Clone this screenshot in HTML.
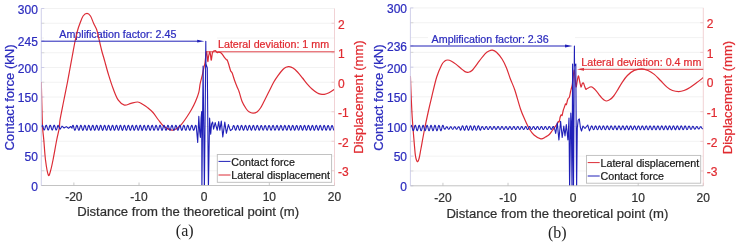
<!DOCTYPE html>
<html><head><meta charset="utf-8"><title>Contact force and lateral displacement</title>
<style>
html,body{margin:0;padding:0;background:#fff;}
body{width:739px;height:246px;overflow:hidden;font-family:"Liberation Sans",sans-serif;}
svg{display:block;filter:blur(0.5px);}
</style></head><body>
<svg width="739" height="246" viewBox="0 0 739 246"><clipPath id="ca"><rect x="41.30" y="8.50" width="293.20" height="177.00"/></clipPath>
<line x1="41.30" y1="38.00" x2="334.50" y2="38.00" stroke="#efefef" stroke-width="0.80"/>
<line x1="41.30" y1="67.50" x2="334.50" y2="67.50" stroke="#efefef" stroke-width="0.80"/>
<line x1="41.30" y1="97.00" x2="334.50" y2="97.00" stroke="#efefef" stroke-width="0.80"/>
<line x1="41.30" y1="126.50" x2="334.50" y2="126.50" stroke="#efefef" stroke-width="0.80"/>
<line x1="41.30" y1="156.00" x2="334.50" y2="156.00" stroke="#efefef" stroke-width="0.80"/>
<line x1="41.30" y1="23.25" x2="334.50" y2="23.25" stroke="#efefef" stroke-width="0.80"/>
<line x1="41.30" y1="52.75" x2="334.50" y2="52.75" stroke="#efefef" stroke-width="0.80"/>
<line x1="41.30" y1="82.25" x2="334.50" y2="82.25" stroke="#efefef" stroke-width="0.80"/>
<line x1="41.30" y1="111.75" x2="334.50" y2="111.75" stroke="#efefef" stroke-width="0.80"/>
<line x1="41.30" y1="141.25" x2="334.50" y2="141.25" stroke="#efefef" stroke-width="0.80"/>
<line x1="41.30" y1="170.75" x2="334.50" y2="170.75" stroke="#efefef" stroke-width="0.80"/>
<line x1="41.30" y1="8.50" x2="334.50" y2="8.50" stroke="#efefef" stroke-width="0.80"/>
<rect x="44" y="36.3" width="173" height="3" fill="#fff"/>
<text x="59.3" y="38.1" font-size="10.70" fill="#2c2cbe" stroke="#2c2cbe" stroke-width="0.22" font-family="Liberation Sans">Amplification factor: 2.45</text>
<text x="218.0" y="47.7" font-size="10.70" fill="#e02a30" stroke="#e02a30" stroke-width="0.22" font-family="Liberation Sans">Lateral deviation: 1 mm</text>
<line x1="41.30" y1="8.50" x2="44.30" y2="8.50" stroke="#c4c4e4" stroke-width="0.80"/>
<line x1="41.30" y1="40.95" x2="44.30" y2="40.95" stroke="#c4c4e4" stroke-width="0.80"/>
<line x1="41.30" y1="67.50" x2="44.30" y2="67.50" stroke="#c4c4e4" stroke-width="0.80"/>
<line x1="41.30" y1="97.00" x2="44.30" y2="97.00" stroke="#c4c4e4" stroke-width="0.80"/>
<line x1="41.30" y1="126.50" x2="44.30" y2="126.50" stroke="#c4c4e4" stroke-width="0.80"/>
<line x1="41.30" y1="156.00" x2="44.30" y2="156.00" stroke="#c4c4e4" stroke-width="0.80"/>
<line x1="41.30" y1="185.50" x2="44.30" y2="185.50" stroke="#c4c4e4" stroke-width="0.80"/>
<line x1="331.50" y1="23.25" x2="334.50" y2="23.25" stroke="#eec6ca" stroke-width="0.80"/>
<line x1="41.30" y1="23.25" x2="44.30" y2="23.25" stroke="#d0d0d0" stroke-width="0.80"/>
<line x1="331.50" y1="52.75" x2="334.50" y2="52.75" stroke="#eec6ca" stroke-width="0.80"/>
<line x1="41.30" y1="52.75" x2="44.30" y2="52.75" stroke="#d0d0d0" stroke-width="0.80"/>
<line x1="331.50" y1="82.25" x2="334.50" y2="82.25" stroke="#eec6ca" stroke-width="0.80"/>
<line x1="41.30" y1="82.25" x2="44.30" y2="82.25" stroke="#d0d0d0" stroke-width="0.80"/>
<line x1="331.50" y1="111.75" x2="334.50" y2="111.75" stroke="#eec6ca" stroke-width="0.80"/>
<line x1="41.30" y1="111.75" x2="44.30" y2="111.75" stroke="#d0d0d0" stroke-width="0.80"/>
<line x1="331.50" y1="141.25" x2="334.50" y2="141.25" stroke="#eec6ca" stroke-width="0.80"/>
<line x1="41.30" y1="141.25" x2="44.30" y2="141.25" stroke="#d0d0d0" stroke-width="0.80"/>
<line x1="331.50" y1="170.75" x2="334.50" y2="170.75" stroke="#eec6ca" stroke-width="0.80"/>
<line x1="41.30" y1="170.75" x2="44.30" y2="170.75" stroke="#d0d0d0" stroke-width="0.80"/>
<line x1="73.88" y1="182.50" x2="73.88" y2="185.50" stroke="#bcbcbc" stroke-width="0.80"/>
<line x1="139.03" y1="182.50" x2="139.03" y2="185.50" stroke="#bcbcbc" stroke-width="0.80"/>
<line x1="204.19" y1="182.50" x2="204.19" y2="185.50" stroke="#bcbcbc" stroke-width="0.80"/>
<line x1="269.34" y1="182.50" x2="269.34" y2="185.50" stroke="#bcbcbc" stroke-width="0.80"/>
<line x1="334.50" y1="182.50" x2="334.50" y2="185.50" stroke="#bcbcbc" stroke-width="0.80"/>
<g clip-path="url(#ca)" fill="none" stroke-linejoin="round">
<path d="M41.30 82.00 C41.35 84.17 41.47 89.50 41.60 95.00 C41.73 100.50 41.93 109.50 42.10 115.00 C42.27 120.50 42.32 123.83 42.60 128.00 C42.88 132.17 43.32 134.67 43.80 140.00 C44.28 145.33 44.75 154.17 45.50 160.00 C46.25 165.83 47.47 173.17 48.30 175.00 C49.13 176.83 49.72 173.50 50.50 171.00 C51.28 168.50 51.97 165.17 53.00 160.00 C54.03 154.83 55.65 145.33 56.70 140.00 C57.75 134.67 58.75 131.33 59.30 128.00 C59.85 124.67 59.30 124.33 60.00 120.00 C60.70 115.67 62.25 108.33 63.50 102.00 C64.75 95.67 66.43 87.50 67.50 82.00 C68.57 76.50 69.12 73.25 69.90 69.00 C70.68 64.75 71.40 60.83 72.20 56.50 C73.00 52.17 74.03 46.35 74.70 43.00 C75.37 39.65 75.70 38.57 76.20 36.40 C76.70 34.23 77.07 32.18 77.70 30.00 C78.33 27.82 79.10 25.63 80.00 23.30 C80.90 20.97 81.93 17.67 83.10 16.00 C84.27 14.33 85.77 13.30 87.00 13.30 C88.23 13.30 89.40 14.33 90.50 16.00 C91.60 17.67 92.55 20.97 93.60 23.30 C94.65 25.63 96.00 27.82 96.80 30.00 C97.60 32.18 97.88 34.23 98.40 36.40 C98.92 38.57 99.33 40.57 99.90 43.00 C100.47 45.43 101.05 48.17 101.80 51.00 C102.55 53.83 103.28 56.07 104.40 60.00 C105.52 63.93 107.00 69.72 108.50 74.60 C110.00 79.48 111.77 85.03 113.40 89.30 C115.03 93.57 116.47 97.57 118.30 100.20 C120.13 102.83 122.28 104.58 124.40 105.10 C126.52 105.62 128.77 103.82 131.00 103.30 C133.23 102.78 135.80 101.80 137.80 102.00 C139.80 102.20 141.37 103.57 143.00 104.50 C144.63 105.43 145.93 106.27 147.60 107.60 C149.27 108.93 151.18 110.43 153.00 112.50 C154.82 114.57 156.67 117.67 158.50 120.00 C160.33 122.33 161.75 124.80 164.00 126.50 C166.25 128.20 169.83 129.87 172.00 130.20 C174.17 130.53 175.38 129.52 177.00 128.50 C178.62 127.48 180.12 125.93 181.70 124.10 C183.28 122.27 184.87 119.93 186.50 117.50 C188.13 115.07 190.00 112.17 191.50 109.50 C193.00 106.83 194.28 104.35 195.50 101.50 C196.72 98.65 198.02 95.40 198.80 92.40 C199.58 89.40 199.62 86.37 200.20 83.50 C200.78 80.63 201.72 77.73 202.30 75.20 C202.88 72.67 203.25 70.37 203.70 68.30 C204.15 66.23 204.57 65.55 205.00 62.80 C205.43 60.05 205.93 52.93 206.30 51.80 C206.67 50.67 206.95 54.37 207.20 56.00 C207.45 57.63 207.58 61.43 207.80 61.60 C208.02 61.77 208.18 58.63 208.50 57.00 C208.82 55.37 209.37 52.13 209.70 51.80 C210.03 51.47 210.23 53.62 210.50 55.00 C210.77 56.38 211.00 60.38 211.30 60.10 C211.60 59.82 211.93 54.78 212.30 53.30 C212.67 51.82 213.13 51.62 213.50 51.20 C213.87 50.78 214.15 50.87 214.50 50.80 C214.85 50.73 215.20 50.52 215.60 50.80 C216.00 51.08 216.37 52.28 216.90 52.50 C217.43 52.72 218.15 52.05 218.80 52.10 C219.45 52.15 220.15 52.35 220.80 52.80 C221.45 53.25 222.10 54.03 222.70 54.80 C223.30 55.57 223.77 56.57 224.40 57.40 C225.03 58.23 226.02 59.33 226.50 59.80 C226.98 60.27 226.90 59.33 227.30 60.20 C227.70 61.07 228.35 63.25 228.90 65.00 C229.45 66.75 230.05 69.35 230.60 70.70 C231.15 72.05 231.53 71.47 232.20 73.10 C232.87 74.73 233.78 78.18 234.60 80.50 C235.42 82.82 236.33 85.08 237.10 87.00 C237.87 88.92 238.37 89.58 239.20 92.00 C240.03 94.42 240.97 98.75 242.10 101.50 C243.23 104.25 244.85 106.78 246.00 108.50 C247.15 110.22 247.83 111.02 249.00 111.80 C250.17 112.58 251.67 113.17 253.00 113.20 C254.33 113.23 255.75 112.87 257.00 112.00 C258.25 111.13 259.33 109.75 260.50 108.00 C261.67 106.25 262.58 104.25 264.00 101.50 C265.42 98.75 267.37 94.75 269.00 91.50 C270.63 88.25 272.30 84.65 273.80 82.00 C275.30 79.35 276.48 77.68 278.00 75.60 C279.52 73.52 281.57 70.88 282.90 69.50 C284.23 68.12 284.98 67.78 286.00 67.30 C287.02 66.82 287.83 66.48 289.00 66.60 C290.17 66.72 291.58 67.10 293.00 68.00 C294.42 68.90 295.92 70.33 297.50 72.00 C299.08 73.67 300.87 75.98 302.50 78.00 C304.13 80.02 305.72 82.27 307.30 84.10 C308.88 85.93 310.38 87.57 312.00 89.00 C313.62 90.43 315.58 91.85 317.00 92.70 C318.42 93.55 319.28 93.82 320.50 94.10 C321.72 94.38 322.88 94.62 324.30 94.40 C325.72 94.18 327.30 93.65 329.00 92.80 C330.70 91.95 333.58 89.88 334.50 89.30" stroke="#dc2c36" stroke-width="1.20"/>
<path d="M41.30 127.22 L41.60 126.19 L41.90 125.46 L42.20 125.20 L42.50 125.46 L42.80 126.19 L43.10 127.22 L43.40 128.34 L43.70 129.30 L44.00 129.88 L44.30 129.97 L44.60 129.54 L44.90 128.69 L45.20 127.60 L45.50 126.51 L45.80 125.66 L46.10 125.23 L46.40 125.32 L46.70 125.90 L47.00 126.86 L47.30 127.98 L47.60 129.01 L47.90 129.74 L48.20 130.00 L48.50 129.74 L48.80 129.01 L49.10 127.98 L49.40 126.86 L49.70 125.90 L50.00 125.32 L50.30 125.23 L50.60 125.66 L50.90 126.51 L51.20 127.60 L51.50 128.69 L51.80 129.54 L52.10 129.97 L52.40 129.88 L52.70 129.30 L53.00 128.34 L53.30 127.22 L53.60 126.19 L53.90 125.46 L54.20 125.20 L54.50 125.46 L54.80 126.19 L55.10 127.22 L55.40 128.34 L55.70 129.30 L56.00 129.88 L56.30 129.97 L56.60 129.54 L56.90 128.69 L57.20 127.60 L57.50 126.51 L57.80 125.66 L58.10 125.23 L60.10 129.20 L62.00 126.20 L64.10 128.00 L66.30 126.60 L68.50 128.30 L70.70 126.50 L72.00 128.20 L72.30 126.42 L72.60 125.62 L72.90 125.30 L73.20 125.54 L73.50 126.29 L73.80 127.37 L74.10 128.54 L74.40 129.55 L74.70 130.18 L75.00 130.27 L75.30 129.81 L75.60 128.91 L75.90 127.76 L76.20 126.62 L76.50 125.74 L76.80 125.32 L77.10 125.45 L77.40 126.10 L77.70 127.13 L78.00 128.31 L78.30 129.38 L78.60 130.09 L78.90 130.29 L79.20 129.94 L79.50 129.12 L79.80 128.00 L80.10 126.83 L80.40 125.88 L80.70 125.36 L81.00 125.38 L81.30 125.94 L81.60 126.91 L81.90 128.08 L82.20 129.18 L82.50 129.98 L82.80 130.30 L83.10 130.06 L83.40 129.31 L83.70 128.23 L84.00 127.06 L84.30 126.05 L84.60 125.42 L84.90 125.33 L85.20 125.79 L85.50 126.69 L85.80 127.84 L86.10 128.98 L86.40 129.86 L86.70 130.28 L87.00 130.15 L87.30 129.50 L87.60 128.47 L87.90 127.29 L88.20 126.22 L88.50 125.51 L88.80 125.31 L89.10 125.66 L89.40 126.48 L89.70 127.60 L90.00 128.77 L90.30 129.72 L90.60 130.24 L90.90 130.22 L91.20 129.66 L91.50 128.69 L91.80 127.52 L92.10 126.42 L92.40 125.62 L92.70 125.30 L93.00 125.54 L93.30 126.29 L93.60 127.37 L93.90 128.54 L94.20 129.55 L94.50 130.18 L94.80 130.27 L95.10 129.81 L95.40 128.91 L95.70 127.76 L96.00 126.62 L96.30 125.74 L96.60 125.32 L96.90 125.45 L97.20 126.10 L97.50 127.13 L97.80 128.31 L98.10 129.38 L98.40 130.09 L98.70 130.29 L99.00 129.94 L99.30 129.12 L99.60 128.00 L99.90 126.83 L100.20 125.88 L100.50 125.36 L100.80 125.38 L101.10 125.94 L101.40 126.91 L101.70 128.08 L102.00 129.18 L102.30 129.98 L102.60 130.30 L102.90 130.06 L103.20 129.31 L103.50 128.23 L103.80 127.06 L104.10 126.05 L104.40 125.42 L104.70 125.33 L105.00 125.79 L105.30 126.69 L105.60 127.84 L105.90 128.98 L106.20 129.86 L106.50 130.28 L106.80 130.15 L107.10 129.50 L107.40 128.47 L107.70 127.29 L108.00 126.22 L108.30 125.51 L108.60 125.31 L108.90 125.66 L109.20 126.48 L109.50 127.60 L109.80 128.77 L110.10 129.72 L110.40 130.24 L110.70 130.22 L111.00 129.66 L111.30 128.69 L111.60 127.52 L111.90 126.42 L112.20 125.62 L112.50 125.30 L112.80 125.54 L113.10 126.29 L113.40 127.37 L113.70 128.54 L114.00 129.55 L114.30 130.18 L114.60 130.27 L114.90 129.81 L115.20 128.91 L115.50 127.76 L115.80 126.62 L116.10 125.74 L116.40 125.32 L116.70 125.45 L117.00 126.10 L117.30 127.13 L117.60 128.31 L117.90 129.38 L118.20 130.09 L118.50 130.29 L118.80 129.94 L119.10 129.12 L119.40 128.00 L119.70 126.83 L120.00 125.88 L120.30 125.36 L120.60 125.38 L120.90 125.94 L121.20 126.91 L121.50 128.08 L121.80 129.18 L122.10 129.98 L122.40 130.30 L122.70 130.06 L123.00 129.31 L123.30 128.23 L123.60 127.06 L123.90 126.05 L124.20 125.42 L124.50 125.33 L124.80 125.79 L125.10 126.69 L125.40 127.84 L125.70 128.98 L126.00 129.86 L126.30 130.28 L126.60 130.15 L126.90 129.50 L127.20 128.47 L127.50 127.29 L127.80 126.22 L128.10 125.51 L128.40 125.31 L128.70 125.66 L129.00 126.48 L129.30 127.60 L129.60 128.77 L129.90 129.72 L130.20 130.24 L130.50 130.22 L130.80 129.66 L131.10 128.69 L131.40 127.52 L131.70 126.42 L132.00 125.62 L132.30 125.30 L132.60 125.54 L132.90 126.29 L133.20 127.37 L133.50 128.54 L133.80 129.55 L134.10 130.18 L134.40 130.27 L134.70 129.81 L135.00 128.91 L135.30 127.76 L135.60 126.62 L135.90 125.74 L136.20 125.32 L136.50 125.45 L136.80 126.10 L137.10 127.13 L137.40 128.31 L137.70 129.38 L138.00 130.09 L138.30 130.29 L138.60 129.94 L138.90 129.12 L139.20 128.00 L139.50 126.83 L139.80 125.88 L140.10 125.36 L140.40 125.38 L140.70 125.94 L141.00 126.91 L141.30 128.08 L141.60 129.18 L141.90 129.98 L142.20 130.30 L142.50 130.06 L142.80 129.31 L143.10 128.23 L143.40 127.06 L143.70 126.05 L144.00 125.42 L144.30 125.33 L144.60 125.79 L144.90 126.69 L145.20 127.84 L145.50 128.98 L145.80 129.86 L146.10 130.28 L146.40 130.15 L146.70 129.50 L147.00 128.47 L147.30 127.29 L147.60 126.22 L147.90 125.51 L148.20 125.31 L148.50 125.66 L148.80 126.48 L149.10 127.60 L149.40 128.77 L149.70 129.72 L150.00 130.24 L150.30 130.22 L150.60 129.66 L150.90 128.69 L151.20 127.52 L151.50 126.42 L151.80 125.62 L152.10 125.30 L152.40 125.54 L152.70 126.29 L153.00 127.37 L153.30 128.54 L153.60 129.55 L153.90 130.18 L154.20 130.27 L154.50 129.81 L154.80 128.91 L155.10 127.76 L155.40 126.62 L155.70 125.74 L156.00 125.32 L156.30 125.45 L156.60 126.10 L156.90 127.13 L157.20 128.31 L157.50 129.38 L157.80 130.09 L158.10 130.29 L158.40 129.94 L158.70 129.12 L159.00 128.00 L159.30 126.83 L159.60 125.88 L159.90 125.36 L160.20 125.38 L160.50 125.94 L160.80 126.91 L161.10 128.08 L161.40 129.18 L161.70 129.98 L162.00 130.30 L162.30 130.06 L162.60 129.31 L162.90 128.23 L163.20 127.06 L163.50 126.05 L163.80 125.42 L164.10 125.33 L164.40 125.79 L164.70 126.69 L165.00 127.84 L165.30 128.98 L165.60 129.86 L165.90 130.28 L166.20 130.15 L166.50 129.50 L166.80 128.47 L167.10 127.29 L167.40 126.22 L167.70 125.51 L168.00 125.31 L168.30 125.66 L168.60 126.48 L168.90 127.60 L169.20 128.77 L169.50 129.72 L169.80 130.24 L170.10 130.22 L170.40 129.66 L170.70 128.69 L171.00 127.52 L171.30 126.42 L171.60 125.62 L171.90 125.30 L172.20 125.54 L172.50 126.29 L172.80 127.37 L173.10 128.54 L173.40 129.55 L173.70 130.18 L174.00 130.27 L174.30 129.81 L174.60 128.91 L174.90 127.76 L175.20 126.62 L175.50 125.74 L175.80 125.32 L176.10 125.45 L176.40 126.10 L176.70 127.13 L177.00 128.31 L177.30 129.38 L177.60 130.09 L177.90 130.29 L178.20 129.94 L178.50 129.12 L178.80 128.00 L179.10 126.83 L179.40 125.88 L179.70 125.36 L180.00 125.38 L180.30 125.94 L180.60 126.91 L180.90 128.08 L181.20 129.18 L181.50 129.98 L181.80 130.30 L182.10 130.06 L182.40 129.31 L182.70 128.23 L183.00 127.06 L183.30 126.05 L183.60 125.42 L183.90 125.33 L184.20 125.79 L184.50 126.69 L184.80 127.84 L185.10 128.98 L185.40 129.86 L185.70 130.28 L186.00 130.15 L186.30 129.50 L186.60 128.47 L186.90 127.29 L187.20 126.22 L187.50 125.51 L187.80 125.31 L188.10 125.66 L188.40 126.48 L188.70 127.60 L189.00 128.77 L189.30 129.72 L189.60 130.24 L189.90 130.22 L190.20 129.66 L190.50 128.69 L190.80 127.52 L191.10 126.42 L191.40 125.62 L191.70 125.30 L192.00 125.54 L192.30 126.29 L192.60 127.37 L192.90 128.54 L193.20 129.55 L193.50 130.18 L193.80 130.27 L194.10 129.81 L194.40 128.91 L194.70 127.76 L195.00 126.62 L195.30 125.74 L195.60 125.32 L195.90 125.45 L196.20 126.10 L196.60 130.00 L197.70 142.40 L198.80 116.40 L199.70 132.00 L200.40 137.50 L201.10 118.00 L201.70 111.50 L201.90 190.00 L203.10 66.00 L204.40 190.00 L205.65 64.00 L205.80 41.20 L205.95 64.00 L207.30 68.00 L208.40 190.00 L209.60 118.00 L210.70 134.30 L211.60 124.00 L212.60 122.00 L213.60 129.20 L215.20 122.60 L217.20 130.30 L218.70 121.60 L219.80 130.30 L221.30 121.10 L222.80 136.90 L224.80 122.10 L226.40 133.30 L228.40 124.60 L230.40 130.60 L232.30 129.20 L232.60 128.15 L232.90 127.01 L233.20 126.06 L233.50 125.49 L233.80 125.45 L234.10 125.93 L234.40 126.84 L234.70 127.96 L235.00 129.04 L235.30 129.85 L235.60 130.19 L235.90 130.00 L236.20 129.31 L236.50 128.28 L236.80 127.14 L237.10 126.15 L237.40 125.53 L237.70 125.42 L238.00 125.85 L238.30 126.72 L238.60 127.82 L238.90 128.93 L239.20 129.78 L239.50 130.18 L239.80 130.05 L240.10 129.41 L240.40 128.41 L240.70 127.27 L241.00 126.25 L241.30 125.58 L241.60 125.41 L241.90 125.78 L242.20 126.60 L242.50 127.69 L242.80 128.81 L243.10 129.70 L243.40 130.16 L243.70 130.09 L244.00 129.51 L244.30 128.54 L244.60 127.40 L244.90 126.36 L245.20 125.64 L245.50 125.40 L245.80 125.71 L246.10 126.48 L246.40 127.56 L246.70 128.68 L247.00 129.61 L247.30 130.13 L247.60 130.13 L247.90 129.60 L248.20 128.67 L248.50 127.54 L248.80 126.47 L249.10 125.70 L249.40 125.40 L249.70 125.64 L250.00 126.37 L250.30 127.42 L250.60 128.56 L250.90 129.52 L251.20 130.10 L251.50 130.16 L251.80 129.69 L252.10 128.79 L252.40 127.67 L252.70 126.58 L253.00 125.77 L253.30 125.41 L253.60 125.59 L253.90 126.27 L254.20 127.29 L254.50 128.43 L254.80 129.43 L255.10 130.06 L255.40 130.18 L255.70 129.77 L256.00 128.91 L256.30 127.80 L256.60 126.70 L256.90 125.84 L257.20 125.42 L257.50 125.54 L257.80 126.17 L258.10 127.16 L258.40 128.30 L258.70 129.33 L259.00 130.01 L259.30 130.19 L259.60 129.84 L259.90 129.03 L260.20 127.94 L260.50 126.82 L260.80 125.92 L261.10 125.44 L261.40 125.50 L261.70 126.07 L262.00 127.03 L262.30 128.17 L262.60 129.22 L262.90 129.95 L263.20 130.20 L263.50 129.91 L263.80 129.14 L264.10 128.07 L264.40 126.94 L264.70 126.01 L265.00 125.47 L265.30 125.46 L265.60 125.98 L265.90 126.91 L266.20 128.03 L266.50 129.11 L266.80 129.89 L267.10 130.20 L267.40 129.97 L267.70 129.25 L268.00 128.21 L268.30 127.07 L268.60 126.10 L268.90 125.51 L269.20 125.44 L269.50 125.90 L269.80 126.78 L270.10 127.90 L270.40 128.99 L270.70 129.82 L271.00 130.19 L271.30 130.02 L271.60 129.35 L271.90 128.34 L272.20 127.20 L272.50 126.20 L272.80 125.55 L273.10 125.42 L273.40 125.82 L273.70 126.66 L274.00 127.77 L274.30 128.88 L274.60 129.74 L274.90 130.17 L275.20 130.07 L275.50 129.45 L275.80 128.47 L276.10 127.33 L276.40 126.30 L276.70 125.60 L277.00 125.40 L277.30 125.75 L277.60 126.55 L277.90 127.63 L278.20 128.75 L278.50 129.66 L278.80 130.15 L279.10 130.11 L279.40 129.55 L279.70 128.59 L280.00 127.46 L280.30 126.40 L280.60 125.66 L280.90 125.40 L281.20 125.68 L281.50 126.44 L281.80 127.50 L282.10 128.63 L282.40 129.57 L282.70 130.12 L283.00 130.14 L283.30 129.64 L283.60 128.72 L283.90 127.59 L284.20 126.52 L284.50 125.73 L284.80 125.40 L285.10 125.62 L285.40 126.33 L285.70 127.37 L286.00 128.50 L286.30 129.48 L286.60 130.08 L286.90 130.17 L287.20 129.72 L287.50 128.84 L287.80 127.73 L288.10 126.63 L288.40 125.80 L288.70 125.41 L289.00 125.57 L289.30 126.22 L289.60 127.24 L289.90 128.37 L290.20 129.38 L290.50 130.04 L290.80 130.19 L291.10 129.80 L291.40 128.96 L291.70 127.86 L292.00 126.75 L292.30 125.87 L292.60 125.43 L292.90 125.52 L293.20 126.13 L293.50 127.11 L293.80 128.24 L294.10 129.28 L294.40 129.98 L294.70 130.20 L295.00 129.87 L295.30 129.08 L295.60 128.00 L295.90 126.87 L296.20 125.96 L296.50 125.46 L296.80 125.48 L297.10 126.03 L297.40 126.98 L297.70 128.11 L298.00 129.17 L298.30 129.93 L298.60 130.20 L298.90 129.93 L299.20 129.19 L299.50 128.13 L299.80 127.00 L300.10 126.04 L300.40 125.49 L300.70 125.45 L301.00 125.94 L301.30 126.85 L301.60 127.98 L301.90 129.06 L302.20 129.86 L302.50 130.20 L302.80 129.99 L303.10 129.30 L303.40 128.26 L303.70 127.12 L304.00 126.14 L304.30 125.53 L304.60 125.43 L304.90 125.86 L305.20 126.73 L305.50 127.84 L305.80 128.94 L306.10 129.79 L306.40 130.18 L306.70 130.04 L307.00 129.40 L307.30 128.39 L307.60 127.25 L307.90 126.24 L308.20 125.57 L308.50 125.41 L308.80 125.79 L309.10 126.61 L309.40 127.71 L309.70 128.82 L310.00 129.71 L310.30 130.16 L310.60 130.09 L310.90 129.50 L311.20 128.52 L311.50 127.39 L311.80 126.34 L312.10 125.63 L312.40 125.40 L312.70 125.72 L313.00 126.50 L313.30 127.58 L313.60 128.70 L313.90 129.63 L314.20 130.14 L314.50 130.12 L314.80 129.59 L315.10 128.65 L315.40 127.52 L315.70 126.45 L316.00 125.69 L316.30 125.40 L316.60 125.65 L316.90 126.39 L317.20 127.44 L317.50 128.58 L317.80 129.54 L318.10 130.10 L318.40 130.15 L318.70 129.67 L319.00 128.77 L319.30 127.65 L319.60 126.56 L319.90 125.76 L320.20 125.41 L320.50 125.60 L320.80 126.28 L321.10 127.31 L321.40 128.45 L321.70 129.44 L322.00 130.06 L322.30 130.18 L322.60 129.76 L322.90 128.89 L323.20 127.79 L323.50 126.68 L323.80 125.83 L324.10 125.42 L324.40 125.55 L324.70 126.18 L325.00 127.18 L325.30 128.32 L325.60 129.34 L325.90 130.02 L326.20 130.19 L326.50 129.83 L326.80 129.01 L327.10 127.92 L327.40 126.80 L327.70 125.91 L328.00 125.44 L328.30 125.50 L328.60 126.08 L328.90 127.05 L329.20 128.19 L329.50 129.23 L329.80 129.96 L330.10 130.20 L330.40 129.90 L330.70 129.12 L331.00 128.05 L331.30 126.92 L331.60 125.99 L331.90 125.47 L332.20 125.47 L332.50 125.99 L332.80 126.92 L333.10 128.05 L333.40 129.12 L333.70 129.90 L334.00 130.20 L334.30 129.96" stroke="#2020b8" stroke-width="1.10"/>
</g>
<line x1="41.30" y1="185.50" x2="334.50" y2="185.50" stroke="#bcbcbc" stroke-width="0.90"/>
<line x1="41.30" y1="8.50" x2="41.30" y2="185.50" stroke="#c4c4e4" stroke-width="0.80"/>
<line x1="334.50" y1="8.50" x2="334.50" y2="185.50" stroke="#eec6ca" stroke-width="0.80"/>
<text x="73.88" y="200.60" font-size="12.00" fill="#303030" stroke="#303030" stroke-width="0.22" text-anchor="middle" font-family="Liberation Sans" >-20</text>
<text x="139.03" y="200.60" font-size="12.00" fill="#303030" stroke="#303030" stroke-width="0.22" text-anchor="middle" font-family="Liberation Sans" >-10</text>
<text x="204.19" y="200.60" font-size="12.00" fill="#303030" stroke="#303030" stroke-width="0.22" text-anchor="middle" font-family="Liberation Sans" >0</text>
<text x="269.34" y="200.60" font-size="12.00" fill="#303030" stroke="#303030" stroke-width="0.22" text-anchor="middle" font-family="Liberation Sans" >10</text>
<text x="334.50" y="200.60" font-size="12.00" fill="#303030" stroke="#303030" stroke-width="0.22" text-anchor="middle" font-family="Liberation Sans" >20</text>
<text x="37.90" y="13.80" font-size="12.00" fill="#2c2cbe" stroke="#2c2cbe" stroke-width="0.22" text-anchor="end" font-family="Liberation Sans" >300</text>
<text x="37.90" y="46.25" font-size="12.00" fill="#2c2cbe" stroke="#2c2cbe" stroke-width="0.22" text-anchor="end" font-family="Liberation Sans" >245</text>
<text x="37.90" y="72.80" font-size="12.00" fill="#2c2cbe" stroke="#2c2cbe" stroke-width="0.22" text-anchor="end" font-family="Liberation Sans" >200</text>
<text x="37.90" y="102.30" font-size="12.00" fill="#2c2cbe" stroke="#2c2cbe" stroke-width="0.22" text-anchor="end" font-family="Liberation Sans" >150</text>
<text x="37.90" y="131.80" font-size="12.00" fill="#2c2cbe" stroke="#2c2cbe" stroke-width="0.22" text-anchor="end" font-family="Liberation Sans" >100</text>
<text x="37.90" y="161.30" font-size="12.00" fill="#2c2cbe" stroke="#2c2cbe" stroke-width="0.22" text-anchor="end" font-family="Liberation Sans" >50</text>
<text x="37.90" y="190.80" font-size="12.00" fill="#2c2cbe" stroke="#2c2cbe" stroke-width="0.22" text-anchor="end" font-family="Liberation Sans" >0</text>
<text x="337.90" y="28.55" font-size="12.00" fill="#e02a30" stroke="#e02a30" stroke-width="0.22" text-anchor="start" font-family="Liberation Sans" >2</text>
<text x="337.90" y="58.05" font-size="12.00" fill="#e02a30" stroke="#e02a30" stroke-width="0.22" text-anchor="start" font-family="Liberation Sans" >1</text>
<text x="337.90" y="87.55" font-size="12.00" fill="#e02a30" stroke="#e02a30" stroke-width="0.22" text-anchor="start" font-family="Liberation Sans" >0</text>
<text x="337.90" y="117.05" font-size="12.00" fill="#e02a30" stroke="#e02a30" stroke-width="0.22" text-anchor="start" font-family="Liberation Sans" >-1</text>
<text x="337.90" y="146.55" font-size="12.00" fill="#e02a30" stroke="#e02a30" stroke-width="0.22" text-anchor="start" font-family="Liberation Sans" >-2</text>
<text x="337.90" y="176.05" font-size="12.00" fill="#e02a30" stroke="#e02a30" stroke-width="0.22" text-anchor="start" font-family="Liberation Sans" >-3</text>
<text x="77.20" y="216.10" font-size="13.10" fill="#303030" stroke="#303030" stroke-width="0.22" text-anchor="start" font-family="Liberation Sans" >Distance from the theoretical point (m)</text>
<text transform="translate(14.20 150.60) rotate(-90)" font-size="13.10" fill="#2c2cbe" stroke="#2c2cbe" stroke-width="0.22" font-family="Liberation Sans">Contact force (kN)</text>
<text transform="translate(362.60 153.80) rotate(-90)" font-size="13.10" fill="#e02a30" stroke="#e02a30" stroke-width="0.22" font-family="Liberation Sans">Displacement (mm)</text>
<text x="175.80" y="236.30" font-size="16" style="fill:#222" font-family="Liberation Serif">(a)</text>
<line x1="41.3" y1="41.2" x2="199" y2="41.2" stroke="#2020b8" stroke-width="1"/>
<path d="M197.2 39.8 L204.3 41.2 L197.2 42.6 Z" fill="#2020b8"/>
<line x1="206.5" y1="51.8" x2="334.5" y2="51.8" stroke="#dc2c36" stroke-width="0.9"/>
<rect x="217.30" y="154.50" width="114.30" height="27.80" fill="#fff" stroke="#bcbcbc" stroke-width="0.9"/>
<line x1="218.50" y1="161.40" x2="230.50" y2="161.40" stroke="#2020b8" stroke-width="1.00"/>
<text x="231.30" y="165.80" font-size="10.70" fill="#1a1a1a" stroke="#1a1a1a" stroke-width="0.22" text-anchor="start" font-family="Liberation Sans" >Contact force</text>
<line x1="218.50" y1="175.00" x2="230.50" y2="175.00" stroke="#dc2c36" stroke-width="1.00"/>
<text x="231.30" y="179.40" font-size="10.70" fill="#1a1a1a" stroke="#1a1a1a" stroke-width="0.22" text-anchor="start" font-family="Liberation Sans" >Lateral displacement</text>
<clipPath id="cb"><rect x="410.40" y="7.90" width="292.90" height="177.90"/></clipPath>
<line x1="410.40" y1="37.55" x2="703.30" y2="37.55" stroke="#efefef" stroke-width="0.80"/>
<line x1="410.40" y1="67.20" x2="703.30" y2="67.20" stroke="#efefef" stroke-width="0.80"/>
<line x1="410.40" y1="96.85" x2="703.30" y2="96.85" stroke="#efefef" stroke-width="0.80"/>
<line x1="410.40" y1="126.50" x2="703.30" y2="126.50" stroke="#efefef" stroke-width="0.80"/>
<line x1="410.40" y1="156.15" x2="703.30" y2="156.15" stroke="#efefef" stroke-width="0.80"/>
<line x1="410.40" y1="22.73" x2="703.30" y2="22.73" stroke="#efefef" stroke-width="0.80"/>
<line x1="410.40" y1="52.38" x2="703.30" y2="52.38" stroke="#efefef" stroke-width="0.80"/>
<line x1="410.40" y1="82.03" x2="703.30" y2="82.03" stroke="#efefef" stroke-width="0.80"/>
<line x1="410.40" y1="111.67" x2="703.30" y2="111.67" stroke="#efefef" stroke-width="0.80"/>
<line x1="410.40" y1="141.33" x2="703.30" y2="141.33" stroke="#efefef" stroke-width="0.80"/>
<line x1="410.40" y1="170.98" x2="703.30" y2="170.98" stroke="#efefef" stroke-width="0.80"/>
<line x1="410.40" y1="7.90" x2="703.30" y2="7.90" stroke="#efefef" stroke-width="0.80"/>
<rect x="428" y="35.8" width="147" height="3" fill="#fff"/>
<text x="431.6" y="42.6" font-size="10.70" fill="#2c2cbe" stroke="#2c2cbe" stroke-width="0.22" font-family="Liberation Sans">Amplification factor: 2.36</text>
<text x="581.3" y="65.5" font-size="10.70" fill="#e02a30" stroke="#e02a30" stroke-width="0.22" font-family="Liberation Sans">Lateral deviation: 0.4 mm</text>
<line x1="410.40" y1="7.90" x2="413.40" y2="7.90" stroke="#c4c4e4" stroke-width="0.80"/>
<line x1="410.40" y1="45.85" x2="413.40" y2="45.85" stroke="#c4c4e4" stroke-width="0.80"/>
<line x1="410.40" y1="67.20" x2="413.40" y2="67.20" stroke="#c4c4e4" stroke-width="0.80"/>
<line x1="410.40" y1="96.85" x2="413.40" y2="96.85" stroke="#c4c4e4" stroke-width="0.80"/>
<line x1="410.40" y1="126.50" x2="413.40" y2="126.50" stroke="#c4c4e4" stroke-width="0.80"/>
<line x1="410.40" y1="156.15" x2="413.40" y2="156.15" stroke="#c4c4e4" stroke-width="0.80"/>
<line x1="410.40" y1="185.80" x2="413.40" y2="185.80" stroke="#c4c4e4" stroke-width="0.80"/>
<line x1="700.30" y1="22.73" x2="703.30" y2="22.73" stroke="#eec6ca" stroke-width="0.80"/>
<line x1="410.40" y1="22.73" x2="413.40" y2="22.73" stroke="#d0d0d0" stroke-width="0.80"/>
<line x1="700.30" y1="52.38" x2="703.30" y2="52.38" stroke="#eec6ca" stroke-width="0.80"/>
<line x1="410.40" y1="52.38" x2="413.40" y2="52.38" stroke="#d0d0d0" stroke-width="0.80"/>
<line x1="700.30" y1="82.03" x2="703.30" y2="82.03" stroke="#eec6ca" stroke-width="0.80"/>
<line x1="410.40" y1="82.03" x2="413.40" y2="82.03" stroke="#d0d0d0" stroke-width="0.80"/>
<line x1="700.30" y1="111.67" x2="703.30" y2="111.67" stroke="#eec6ca" stroke-width="0.80"/>
<line x1="410.40" y1="111.67" x2="413.40" y2="111.67" stroke="#d0d0d0" stroke-width="0.80"/>
<line x1="700.30" y1="141.33" x2="703.30" y2="141.33" stroke="#eec6ca" stroke-width="0.80"/>
<line x1="410.40" y1="141.33" x2="413.40" y2="141.33" stroke="#d0d0d0" stroke-width="0.80"/>
<line x1="700.30" y1="170.98" x2="703.30" y2="170.98" stroke="#eec6ca" stroke-width="0.80"/>
<line x1="410.40" y1="170.98" x2="413.40" y2="170.98" stroke="#d0d0d0" stroke-width="0.80"/>
<line x1="442.94" y1="182.80" x2="442.94" y2="185.80" stroke="#bcbcbc" stroke-width="0.80"/>
<line x1="508.03" y1="182.80" x2="508.03" y2="185.80" stroke="#bcbcbc" stroke-width="0.80"/>
<line x1="573.12" y1="182.80" x2="573.12" y2="185.80" stroke="#bcbcbc" stroke-width="0.80"/>
<line x1="638.21" y1="182.80" x2="638.21" y2="185.80" stroke="#bcbcbc" stroke-width="0.80"/>
<line x1="703.30" y1="182.80" x2="703.30" y2="185.80" stroke="#bcbcbc" stroke-width="0.80"/>
<g clip-path="url(#cb)" fill="none" stroke-linejoin="round">
<path d="M410.40 75.90 C410.48 78.25 410.67 84.32 410.90 90.00 C411.13 95.68 411.52 104.50 411.80 110.00 C412.08 115.50 412.32 118.93 412.60 123.00 C412.88 127.07 413.07 129.25 413.50 134.40 C413.93 139.55 414.73 149.72 415.20 153.90 C415.67 158.08 415.88 158.20 416.30 159.50 C416.72 160.80 417.22 161.95 417.70 161.70 C418.18 161.45 418.67 160.12 419.20 158.00 C419.73 155.88 420.02 153.75 420.90 149.00 C421.78 144.25 423.28 135.67 424.50 129.50 C425.72 123.33 426.98 117.48 428.20 112.00 C429.42 106.52 430.38 102.43 431.80 96.60 C433.22 90.77 435.07 82.28 436.70 77.00 C438.33 71.72 440.30 67.52 441.60 64.90 C442.90 62.28 443.48 62.12 444.50 61.30 C445.52 60.48 446.53 60.02 447.70 60.00 C448.87 59.98 450.08 60.47 451.50 61.20 C452.92 61.93 454.62 63.18 456.20 64.40 C457.78 65.62 459.53 67.30 461.00 68.50 C462.47 69.70 463.83 70.97 465.00 71.60 C466.17 72.23 466.83 72.48 468.00 72.30 C469.17 72.12 470.10 72.40 472.00 70.50 C473.90 68.60 477.23 63.68 479.40 60.90 C481.57 58.12 483.40 55.45 485.00 53.80 C486.60 52.15 487.77 51.60 489.00 51.00 C490.23 50.40 491.15 49.98 492.40 50.20 C493.65 50.42 494.87 50.78 496.50 52.30 C498.13 53.82 500.53 56.68 502.20 59.30 C503.87 61.92 505.15 64.75 506.50 68.00 C507.85 71.25 508.92 75.13 510.30 78.80 C511.68 82.47 513.10 84.97 514.80 90.00 C516.50 95.03 518.80 104.00 520.50 109.00 C522.20 114.00 523.52 116.67 525.00 120.00 C526.48 123.33 527.90 126.50 529.40 129.00 C530.90 131.50 532.10 133.37 534.00 135.00 C535.90 136.63 538.88 138.47 540.80 138.80 C542.72 139.13 544.13 137.67 545.50 137.00 C546.87 136.33 547.87 135.88 549.00 134.80 C550.13 133.72 551.30 131.83 552.30 130.50 C553.30 129.17 554.18 127.90 555.00 126.80 C555.82 125.70 556.65 124.78 557.20 123.90 C557.75 123.02 557.97 121.85 558.30 121.50 C558.63 121.15 558.88 122.55 559.20 121.80 C559.52 121.05 559.87 118.17 560.20 117.00 C560.53 115.83 560.88 115.05 561.20 114.80 C561.52 114.55 561.77 116.22 562.10 115.50 C562.43 114.78 562.80 111.95 563.20 110.50 C563.60 109.05 564.12 107.88 564.50 106.80 C564.88 105.72 565.18 104.37 565.50 104.00 C565.82 103.63 566.08 105.18 566.40 104.60 C566.72 104.02 567.08 101.55 567.40 100.50 C567.72 99.45 567.97 98.87 568.30 98.30 C568.63 97.73 569.02 98.23 569.40 97.10 C569.78 95.97 570.25 93.02 570.60 91.50 C570.95 89.98 571.22 89.17 571.50 88.00 C571.78 86.83 571.98 86.67 572.30 84.50 C572.62 82.33 573.07 77.40 573.40 75.00 C573.73 72.60 574.00 69.52 574.30 70.10 C574.60 70.68 574.90 75.68 575.20 78.50 C575.50 81.32 575.75 86.67 576.10 87.00 C576.45 87.33 576.90 82.35 577.30 80.50 C577.70 78.65 578.10 75.73 578.50 75.90 C578.90 76.07 579.28 79.65 579.70 81.50 C580.12 83.35 580.58 86.62 581.00 87.00 C581.42 87.38 581.80 84.47 582.20 83.80 C582.60 83.13 582.98 82.55 583.40 83.00 C583.82 83.45 584.28 85.43 584.70 86.50 C585.12 87.57 585.50 89.07 585.90 89.40 C586.30 89.73 586.70 88.73 587.10 88.50 C587.50 88.27 587.82 88.25 588.30 88.00 C588.78 87.75 589.38 87.17 590.00 87.00 C590.62 86.83 591.25 86.67 592.00 87.00 C592.75 87.33 593.70 88.22 594.50 89.00 C595.30 89.78 596.02 90.73 596.80 91.70 C597.58 92.67 598.38 93.78 599.20 94.80 C600.02 95.82 600.90 96.93 601.70 97.80 C602.50 98.67 603.18 99.47 604.00 100.00 C604.82 100.53 605.60 101.07 606.60 101.00 C607.60 100.93 608.82 100.43 610.00 99.60 C611.18 98.77 612.52 97.47 613.70 96.00 C614.88 94.53 615.68 93.08 617.10 90.80 C618.52 88.52 620.48 84.85 622.20 82.30 C623.92 79.75 625.40 77.48 627.40 75.50 C629.40 73.52 631.78 71.52 634.20 70.40 C636.62 69.28 639.60 68.78 641.90 68.80 C644.20 68.82 645.93 69.57 648.00 70.50 C650.07 71.43 652.22 72.73 654.30 74.40 C656.38 76.07 658.33 78.33 660.50 80.50 C662.67 82.67 665.30 85.73 667.30 87.40 C669.30 89.07 670.60 89.80 672.50 90.50 C674.40 91.20 676.78 91.60 678.70 91.60 C680.62 91.60 682.12 91.20 684.00 90.50 C685.88 89.80 687.92 88.68 690.00 87.40 C692.08 86.12 694.28 84.43 696.50 82.80 C698.72 81.17 702.17 78.47 703.30 77.60" stroke="#dc2c36" stroke-width="1.20"/>
<path d="M410.40 127.63 L410.70 126.44 L411.00 125.60 L411.30 125.30 L411.60 125.60 L411.90 126.44 L412.20 127.63 L412.50 128.90 L412.80 129.97 L413.10 130.60 L413.40 130.64 L413.70 130.09 L414.00 129.08 L414.30 127.82 L414.60 126.60 L414.90 125.69 L415.20 125.31 L415.50 125.52 L415.80 126.30 L416.10 127.45 L416.40 128.73 L416.70 129.84 L417.00 130.54 L417.30 130.67 L417.60 130.21 L417.90 129.24 L418.20 128.00 L418.50 126.76 L418.80 125.79 L419.10 125.33 L419.40 125.46 L419.70 126.16 L420.00 127.27 L420.30 128.55 L420.60 129.70 L420.90 130.48 L421.20 130.69 L421.50 130.31 L421.80 129.40 L422.10 128.19 L422.40 126.93 L422.70 125.91 L423.00 125.36 L423.30 125.40 L423.60 126.03 L423.90 127.09 L424.20 128.37 L424.50 129.56 L424.80 130.40 L425.10 130.70 L425.40 130.40 L425.70 129.56 L426.00 128.37 L426.30 127.10 L426.60 126.03 L426.90 125.40 L427.20 125.36 L427.50 125.90 L427.80 126.92 L428.10 128.18 L428.40 129.40 L428.70 130.31 L429.00 130.69 L429.30 130.48 L429.60 129.71 L429.90 128.55 L430.20 127.27 L430.50 126.16 L430.80 125.46 L431.10 125.32 L431.40 125.79 L431.70 126.76 L432.00 128.00 L432.30 129.24 L432.60 130.20 L432.90 130.67 L433.20 130.55 L433.50 129.85 L433.80 128.73 L434.10 127.45 L434.40 126.30 L434.70 125.52 L435.00 125.31 L435.30 125.69 L435.60 126.59 L435.90 127.81 L436.20 129.07 L436.50 130.09 L436.80 130.64 L437.10 130.60 L437.40 129.98 L437.70 128.91 L438.00 127.64 L438.30 126.45 L438.60 125.60 L438.90 125.30 L439.20 125.60 L439.50 126.44 L439.80 127.63 L440.10 128.90 L440.40 129.97 L440.70 130.60 L441.00 130.64 L441.30 130.10 L441.60 129.08 L441.90 127.82 L442.20 126.60 L442.50 125.70 L442.80 125.31 L443.10 125.52 L443.40 126.29 L443.70 127.45 L444.00 128.35 L444.30 128.89 L444.60 129.22 L444.90 129.29 L445.20 129.06 L445.50 128.60 L445.80 128.00 L446.10 127.40 L446.40 126.94 L446.70 126.71 L447.00 126.77 L447.30 127.11 L447.60 127.65 L447.90 128.26 L448.20 128.82 L448.50 129.19 L448.80 129.30 L449.10 129.11 L449.40 128.68 L449.70 128.09 L450.00 127.48 L450.30 126.99 L450.60 126.73 L450.90 126.75 L451.20 127.05 L451.50 127.56 L451.80 128.17 L452.10 128.75 L452.40 129.15 L452.70 129.30 L453.00 129.16 L453.30 128.75 L453.60 128.18 L453.90 127.57 L454.20 127.05 L454.50 126.75 L454.80 126.73 L455.10 126.99 L455.40 127.48 L455.70 128.09 L456.00 128.67 L456.30 129.11 L456.60 129.30 L456.90 129.19 L457.20 128.82 L457.50 128.27 L457.80 127.65 L458.10 127.12 L458.40 126.78 L458.70 126.71 L459.00 126.94 L459.30 127.40 L459.60 128.00 L459.90 128.59 L460.20 129.79 L460.50 130.18 L460.80 130.08 L461.10 129.51 L461.40 128.60 L461.70 127.56 L462.00 126.62 L462.30 125.98 L462.60 125.80 L462.90 126.12 L463.20 126.85 L463.50 127.84 L463.80 128.87 L464.10 129.70 L464.40 130.15 L464.70 130.12 L465.00 129.61 L465.30 128.74 L465.60 127.71 L465.90 126.74 L466.20 126.05 L466.50 125.80 L466.80 126.04 L467.10 126.73 L467.40 127.69 L467.70 128.73 L468.00 129.60 L468.30 130.12 L468.60 130.16 L468.90 129.71 L469.20 128.88 L469.50 127.86 L469.80 126.86 L470.10 126.12 L470.40 125.81 L470.70 125.98 L471.00 126.61 L471.30 127.54 L471.60 128.59 L471.90 129.50 L472.20 130.07 L472.50 130.18 L472.80 129.80 L473.10 129.02 L473.40 128.01 L473.70 126.99 L474.00 126.21 L474.30 125.82 L474.60 125.92 L474.90 126.49 L475.20 127.40 L475.50 128.44 L475.80 129.38 L476.10 130.01 L476.40 130.20 L476.70 129.88 L477.00 129.15 L477.30 128.16 L477.60 127.13 L477.90 126.30 L478.20 125.85 L478.50 125.88 L478.80 126.39 L479.10 127.26 L479.40 128.29 L479.70 129.26 L480.00 129.95 L480.30 130.20 L480.60 129.96 L480.90 129.28 L481.20 128.21 L481.50 127.50 L481.80 126.91 L482.10 126.56 L482.40 126.53 L482.70 126.83 L483.00 127.40 L483.30 128.10 L483.60 128.77 L483.90 129.28 L484.20 129.50 L484.50 129.38 L484.80 128.95 L485.10 128.31 L485.40 127.60 L485.70 126.98 L486.00 126.59 L486.30 126.51 L486.60 126.77 L486.90 127.30 L487.20 127.99 L487.50 128.68 L487.80 129.22 L488.10 129.49 L488.40 129.42 L488.70 129.03 L489.00 128.41 L489.30 127.70 L489.60 127.06 L489.90 126.63 L490.20 126.50 L490.50 126.71 L490.80 127.21 L491.10 127.89 L491.40 128.59 L491.70 129.16 L492.00 129.47 L492.30 129.45 L492.60 129.10 L492.90 128.51 L493.20 127.80 L493.50 127.14 L493.80 126.67 L494.10 126.50 L494.40 126.66 L494.70 127.13 L495.00 127.79 L495.30 128.50 L495.60 129.09 L495.90 129.44 L496.20 129.47 L496.50 129.17 L496.80 128.60 L497.10 127.91 L497.40 127.23 L497.70 126.72 L498.00 126.50 L498.30 126.62 L498.60 127.05 L498.90 127.69 L499.20 128.40 L499.50 129.02 L499.80 129.41 L500.10 129.49 L500.40 129.23 L500.70 128.70 L501.00 128.01 L501.30 127.32 L501.60 126.78 L501.90 126.52 L502.20 126.58 L502.50 126.97 L502.80 127.59 L503.10 128.30 L503.40 128.94 L503.70 129.37 L504.00 129.50 L504.30 129.29 L504.60 128.79 L504.90 128.11 L505.20 127.41 L505.50 126.84 L505.80 126.53 L506.10 126.55 L506.40 126.90 L506.70 127.49 L507.00 128.20 L507.30 128.86 L507.60 129.33 L507.90 129.50 L508.20 129.34 L508.50 128.87 L508.80 128.21 L509.10 127.51 L509.40 126.91 L509.70 126.56 L510.00 126.53 L510.30 126.83 L510.60 127.39 L510.90 128.09 L511.20 128.77 L511.50 129.28 L511.80 129.50 L512.10 129.38 L512.40 128.95 L512.70 128.31 L513.00 127.60 L513.30 126.98 L513.60 126.59 L513.90 126.51 L514.20 126.77 L514.50 127.30 L514.80 127.99 L515.10 128.68 L515.40 129.22 L515.70 129.48 L516.00 129.42 L516.30 129.03 L516.60 128.41 L516.90 127.70 L517.20 127.06 L517.50 126.63 L517.80 126.50 L518.10 126.71 L518.40 127.21 L518.70 127.89 L519.00 128.59 L519.30 129.16 L519.60 129.47 L519.90 129.45 L520.20 129.10 L520.50 128.51 L520.80 127.81 L521.10 127.14 L521.40 126.67 L521.70 126.50 L522.00 126.66 L522.30 127.13 L522.60 127.79 L522.90 128.49 L523.20 129.09 L523.50 129.44 L523.80 129.47 L524.10 129.17 L524.40 128.61 L524.70 127.91 L525.00 127.23 L525.30 126.72 L525.60 126.50 L525.90 126.62 L526.20 127.05 L526.50 127.69 L526.80 128.40 L527.10 129.02 L527.40 129.41 L527.70 129.49 L528.00 129.23 L528.30 128.70 L528.60 128.01 L528.90 127.32 L529.20 126.78 L529.50 126.52 L529.80 126.58 L530.10 126.97 L530.40 127.59 L530.70 128.30 L531.00 128.94 L531.30 129.37 L531.60 129.50 L531.90 129.29 L532.20 128.79 L532.50 128.11 L532.80 127.41 L533.10 126.84 L533.40 126.53 L533.70 126.55 L534.00 126.90 L534.30 127.49 L534.60 128.19 L534.90 128.86 L535.20 129.33 L535.50 129.50 L535.80 129.34 L536.10 128.87 L536.40 128.21 L536.70 127.51 L537.00 126.91 L537.30 126.56 L537.60 126.53 L537.90 126.83 L538.20 127.39 L538.50 128.09 L538.80 128.77 L539.10 129.28 L539.40 129.50 L539.70 129.38 L540.00 128.96 L540.30 128.32 L540.60 127.61 L540.90 126.98 L541.20 126.59 L541.50 126.51 L541.80 126.77 L542.10 127.30 L542.40 127.99 L542.70 128.68 L543.00 129.22 L543.30 129.48 L543.60 129.42 L543.90 129.03 L544.20 128.42 L544.50 127.71 L544.80 127.06 L545.10 126.63 L545.40 126.50 L545.70 126.71 L546.00 127.21 L546.30 127.89 L546.60 128.59 L546.90 129.16 L547.20 129.47 L547.50 129.45 L547.80 129.10 L548.10 128.51 L548.40 127.81 L548.70 127.14 L549.00 126.67 L549.30 126.50 L549.60 126.66 L549.90 127.13 L550.20 127.78 L550.50 128.49 L550.80 129.09 L551.10 129.44 L551.40 129.47 L551.70 129.17 L552.00 128.61 L552.30 127.91 L552.60 127.23 L552.90 126.72 L553.20 126.50 L553.50 126.62 L553.80 127.04 L554.10 127.68 L554.40 128.39 L554.70 129.01 L555.70 133.50 L557.30 122.90 L558.90 140.00 L560.60 121.30 L562.20 137.50 L563.80 126.10 L565.00 135.90 L566.30 124.50 L567.90 140.00 L569.00 118.00 L569.60 190.00 L570.80 113.10 L571.40 125.00 L572.00 190.00 L572.60 64.00 L573.50 190.00 L574.25 66.00 L574.40 46.00 L574.55 66.00 L575.80 64.00 L576.60 190.00 L577.30 128.00 L578.20 120.00 L579.30 118.80 L580.40 127.50 L581.50 131.00 L583.00 126.00 L585.00 128.50 L587.70 125.00 L589.50 130.80 L589.80 129.69 L590.10 129.41 L590.40 128.76 L590.70 127.88 L591.00 126.99 L591.30 126.28 L591.60 125.92 L591.90 126.00 L592.20 126.49 L592.50 127.28 L592.80 128.19 L593.10 129.01 L593.40 129.55 L593.70 129.69 L594.00 129.40 L594.30 128.74 L594.60 127.86 L594.90 126.97 L595.20 126.27 L595.50 125.92 L595.80 126.01 L596.10 126.50 L596.40 127.30 L596.70 128.21 L597.00 129.02 L597.30 129.56 L597.60 129.69 L597.90 129.39 L598.20 128.72 L598.50 127.84 L598.80 126.95 L599.10 126.26 L599.40 125.92 L599.70 126.01 L600.00 126.52 L600.30 127.32 L600.60 128.23 L600.90 129.04 L601.20 129.57 L601.50 129.69 L601.80 129.38 L602.10 128.70 L602.40 127.82 L602.70 126.93 L603.00 126.24 L603.30 125.92 L603.60 126.02 L603.90 126.53 L604.20 127.34 L604.50 128.25 L604.80 129.06 L605.10 129.58 L605.40 129.69 L605.70 129.36 L606.00 128.68 L606.30 127.80 L606.60 126.91 L606.90 126.23 L607.20 125.91 L607.50 126.03 L607.80 126.55 L608.10 127.36 L608.40 128.27 L608.70 129.07 L609.00 129.58 L609.30 129.68 L609.60 129.35 L609.90 128.66 L610.20 127.77 L610.50 126.89 L610.80 126.22 L611.10 125.91 L611.40 126.04 L611.70 126.57 L612.00 127.38 L612.30 128.29 L612.60 129.09 L612.90 129.59 L613.20 129.68 L613.50 129.34 L613.80 128.64 L614.10 127.75 L614.40 126.87 L614.70 126.21 L615.00 125.91 L615.30 126.04 L615.60 126.58 L615.90 127.40 L616.20 128.31 L616.50 129.10 L616.80 129.60 L617.10 129.68 L617.40 129.33 L617.70 128.62 L618.00 127.73 L618.30 126.86 L618.60 126.20 L618.90 125.91 L619.20 126.05 L619.50 126.60 L619.80 127.42 L620.10 128.33 L620.40 129.12 L620.70 129.60 L621.00 129.67 L621.30 129.31 L621.60 128.60 L621.90 127.71 L622.20 126.84 L622.50 126.19 L622.80 125.90 L623.10 126.06 L623.40 126.62 L623.70 127.44 L624.00 128.35 L624.30 129.14 L624.60 129.61 L624.90 129.67 L625.20 129.30 L625.50 128.58 L625.80 127.69 L626.10 126.82 L626.40 126.17 L626.70 125.90 L627.00 126.07 L627.30 126.63 L627.60 127.46 L627.90 128.37 L628.20 129.15 L628.50 129.62 L628.80 129.67 L629.10 129.29 L629.40 128.56 L629.70 127.67 L630.00 126.80 L630.30 126.16 L630.60 125.90 L630.90 126.08 L631.20 126.65 L631.50 127.48 L631.80 128.39 L632.10 129.17 L632.40 129.62 L632.70 129.66 L633.00 129.27 L633.30 128.55 L633.60 127.65 L633.90 126.78 L634.20 126.15 L634.50 125.90 L634.80 126.09 L635.10 126.67 L635.40 127.51 L635.70 128.41 L636.00 129.18 L636.30 129.63 L636.60 129.66 L636.90 129.26 L637.20 128.53 L637.50 127.62 L637.80 126.76 L638.10 126.14 L638.40 125.90 L638.70 126.10 L639.00 126.68 L639.30 127.53 L639.60 128.43 L639.90 129.19 L640.20 129.64 L640.50 129.65 L640.80 129.25 L641.10 128.51 L641.40 127.60 L641.70 126.75 L642.00 126.13 L642.30 125.90 L642.60 126.11 L642.90 126.70 L643.20 127.55 L643.50 128.45 L643.80 129.21 L644.10 129.64 L644.40 129.65 L644.70 129.23 L645.00 128.49 L645.30 127.58 L645.60 126.73 L645.90 126.12 L646.20 125.90 L646.50 126.12 L646.80 126.72 L647.10 127.57 L647.40 128.47 L647.70 129.22 L648.00 129.65 L648.30 129.64 L648.60 129.22 L648.90 128.47 L649.20 127.56 L649.50 126.71 L649.80 126.11 L650.10 125.90 L650.40 126.13 L650.70 126.74 L651.00 127.59 L651.30 128.49 L651.60 129.24 L651.90 129.65 L652.20 129.64 L652.50 129.20 L652.80 128.45 L653.10 127.54 L653.40 126.69 L653.70 126.10 L654.00 125.90 L654.30 126.14 L654.60 126.75 L654.90 127.61 L655.20 128.51 L655.50 129.25 L655.80 129.66 L656.10 129.63 L656.40 129.19 L656.70 128.43 L657.00 127.52 L657.30 126.68 L657.60 126.09 L657.90 125.90 L658.20 126.15 L658.50 126.77 L658.80 127.63 L659.10 128.53 L659.40 129.27 L659.70 129.66 L660.00 129.63 L660.30 129.17 L660.60 128.40 L660.90 127.50 L661.20 126.66 L661.50 126.08 L661.80 125.90 L662.10 126.16 L662.40 126.79 L662.70 127.66 L663.00 128.55 L663.30 129.28 L663.60 129.66 L663.90 129.62 L664.20 129.16 L664.50 128.38 L664.80 127.48 L665.10 126.64 L665.40 126.07 L665.70 125.90 L666.00 126.17 L666.30 126.81 L666.60 127.68 L666.90 128.57 L667.20 129.29 L667.50 129.67 L667.80 129.61 L668.10 129.14 L668.40 128.36 L668.70 127.45 L669.00 126.62 L669.30 126.06 L669.60 125.90 L669.90 126.18 L670.20 126.83 L670.50 127.70 L670.80 128.59 L671.10 129.31 L671.40 129.67 L671.70 129.61 L672.00 129.13 L672.30 128.34 L672.60 127.43 L672.90 126.61 L673.20 126.06 L673.50 125.91 L673.80 126.19 L674.10 126.85 L674.40 127.72 L674.70 128.61 L675.00 129.32 L675.30 129.68 L675.60 129.60 L675.90 129.11 L676.20 128.32 L676.50 127.41 L676.80 126.59 L677.10 126.05 L677.40 125.91 L677.70 126.20 L678.00 126.86 L678.30 127.74 L678.60 128.63 L678.90 129.33 L679.20 129.68 L679.50 129.59 L679.80 129.10 L680.10 128.30 L680.40 127.39 L680.70 126.57 L681.00 126.04 L681.30 125.91 L681.60 126.21 L681.90 126.88 L682.20 127.76 L682.50 128.65 L682.80 129.34 L683.10 129.68 L683.40 129.59 L683.70 129.08 L684.00 128.28 L684.30 127.37 L684.60 126.56 L684.90 126.03 L685.20 125.92 L685.50 126.25 L685.80 126.92 L686.10 127.78 L686.40 128.64 L686.70 129.29 L687.00 129.59 L687.30 129.47 L687.60 128.98 L687.90 128.23 L688.20 127.39 L688.50 126.66 L688.80 126.20 L689.10 126.12 L689.40 126.42 L689.70 127.03 L690.00 127.80 L690.30 128.57 L690.60 129.14 L690.90 129.39 L691.20 129.28 L691.50 128.84 L691.80 128.16 L692.10 127.42 L692.40 126.77 L692.70 126.38 L693.00 126.31 L693.30 126.59 L693.60 127.13 L693.90 127.82 L694.20 128.49 L694.50 128.99 L694.80 129.20 L695.10 129.10 L695.40 128.70 L695.70 128.10 L696.00 127.45 L696.30 126.89 L696.60 126.56 L696.90 126.51 L697.20 126.76 L697.50 127.24 L697.80 127.83 L698.10 128.41 L698.40 128.83 L698.70 129.01 L699.00 128.91 L699.30 128.56 L699.60 128.05 L699.90 127.49 L700.20 127.02 L700.50 126.74 L700.80 126.70 L701.10 126.92 L701.40 127.33 L701.70 127.84 L702.00 128.32 L702.30 128.67 L702.60 128.82 L702.90 128.72 L703.20 128.43" stroke="#2020b8" stroke-width="1.10"/>
</g>
<line x1="410.40" y1="185.80" x2="703.30" y2="185.80" stroke="#bcbcbc" stroke-width="0.90"/>
<line x1="410.40" y1="7.90" x2="410.40" y2="185.80" stroke="#c4c4e4" stroke-width="0.80"/>
<line x1="703.30" y1="7.90" x2="703.30" y2="185.80" stroke="#eec6ca" stroke-width="0.80"/>
<text x="442.94" y="202.00" font-size="12.00" fill="#303030" stroke="#303030" stroke-width="0.22" text-anchor="middle" font-family="Liberation Sans" >-20</text>
<text x="508.03" y="202.00" font-size="12.00" fill="#303030" stroke="#303030" stroke-width="0.22" text-anchor="middle" font-family="Liberation Sans" >-10</text>
<text x="573.12" y="202.00" font-size="12.00" fill="#303030" stroke="#303030" stroke-width="0.22" text-anchor="middle" font-family="Liberation Sans" >0</text>
<text x="638.21" y="202.00" font-size="12.00" fill="#303030" stroke="#303030" stroke-width="0.22" text-anchor="middle" font-family="Liberation Sans" >10</text>
<text x="703.30" y="202.00" font-size="12.00" fill="#303030" stroke="#303030" stroke-width="0.22" text-anchor="middle" font-family="Liberation Sans" >20</text>
<text x="407.00" y="13.20" font-size="12.00" fill="#2c2cbe" stroke="#2c2cbe" stroke-width="0.22" text-anchor="end" font-family="Liberation Sans" >300</text>
<text x="407.00" y="51.15" font-size="12.00" fill="#2c2cbe" stroke="#2c2cbe" stroke-width="0.22" text-anchor="end" font-family="Liberation Sans" >236</text>
<text x="407.00" y="72.50" font-size="12.00" fill="#2c2cbe" stroke="#2c2cbe" stroke-width="0.22" text-anchor="end" font-family="Liberation Sans" >200</text>
<text x="407.00" y="102.15" font-size="12.00" fill="#2c2cbe" stroke="#2c2cbe" stroke-width="0.22" text-anchor="end" font-family="Liberation Sans" >150</text>
<text x="407.00" y="131.80" font-size="12.00" fill="#2c2cbe" stroke="#2c2cbe" stroke-width="0.22" text-anchor="end" font-family="Liberation Sans" >100</text>
<text x="407.00" y="161.45" font-size="12.00" fill="#2c2cbe" stroke="#2c2cbe" stroke-width="0.22" text-anchor="end" font-family="Liberation Sans" >50</text>
<text x="407.00" y="191.10" font-size="12.00" fill="#2c2cbe" stroke="#2c2cbe" stroke-width="0.22" text-anchor="end" font-family="Liberation Sans" >0</text>
<text x="706.70" y="28.03" font-size="12.00" fill="#e02a30" stroke="#e02a30" stroke-width="0.22" text-anchor="start" font-family="Liberation Sans" >2</text>
<text x="706.70" y="57.67" font-size="12.00" fill="#e02a30" stroke="#e02a30" stroke-width="0.22" text-anchor="start" font-family="Liberation Sans" >1</text>
<text x="706.70" y="87.33" font-size="12.00" fill="#e02a30" stroke="#e02a30" stroke-width="0.22" text-anchor="start" font-family="Liberation Sans" >0</text>
<text x="706.70" y="116.97" font-size="12.00" fill="#e02a30" stroke="#e02a30" stroke-width="0.22" text-anchor="start" font-family="Liberation Sans" >-1</text>
<text x="706.70" y="146.63" font-size="12.00" fill="#e02a30" stroke="#e02a30" stroke-width="0.22" text-anchor="start" font-family="Liberation Sans" >-2</text>
<text x="706.70" y="176.28" font-size="12.00" fill="#e02a30" stroke="#e02a30" stroke-width="0.22" text-anchor="start" font-family="Liberation Sans" >-3</text>
<text x="446.40" y="218.30" font-size="13.10" fill="#303030" stroke="#303030" stroke-width="0.22" text-anchor="start" font-family="Liberation Sans" >Distance from the theoretical point (m)</text>
<text transform="translate(383.40 150.70) rotate(-90)" font-size="13.10" fill="#2c2cbe" stroke="#2c2cbe" stroke-width="0.22" font-family="Liberation Sans">Contact force (kN)</text>
<text transform="translate(731.80 154.30) rotate(-90)" font-size="13.10" fill="#e02a30" stroke="#e02a30" stroke-width="0.22" font-family="Liberation Sans">Displacement (mm)</text>
<text x="548.00" y="237.50" font-size="16" style="fill:#222" font-family="Liberation Serif">(b)</text>
<line x1="410.4" y1="46.0" x2="567" y2="46.0" stroke="#2020b8" stroke-width="1"/>
<path d="M565 44.6 L572.6 46.0 L565 47.4 Z" fill="#2020b8"/>
<line x1="580" y1="69.3" x2="703.3" y2="69.3" stroke="#dc2c36" stroke-width="0.9"/>
<path d="M577.0 69.3 L584 67.9 L584 70.7 Z" fill="#dc2c36"/>
<rect x="586.50" y="155.40" width="114.20" height="27.80" fill="#fff" stroke="#bcbcbc" stroke-width="0.9"/>
<line x1="587.70" y1="162.60" x2="599.70" y2="162.60" stroke="#dc2c36" stroke-width="1.00"/>
<text x="600.50" y="167.00" font-size="10.70" fill="#1a1a1a" stroke="#1a1a1a" stroke-width="0.22" text-anchor="start" font-family="Liberation Sans" >Lateral displacement</text>
<line x1="587.70" y1="176.00" x2="599.70" y2="176.00" stroke="#2020b8" stroke-width="1.00"/>
<text x="600.50" y="180.40" font-size="10.70" fill="#1a1a1a" stroke="#1a1a1a" stroke-width="0.22" text-anchor="start" font-family="Liberation Sans" >Contact force</text></svg>
</body></html>
